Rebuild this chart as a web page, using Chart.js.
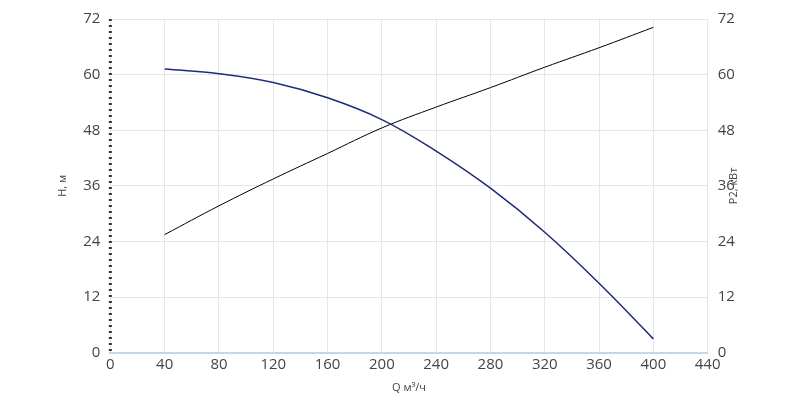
<!DOCTYPE html>
<html><head><meta charset="utf-8">
<script src="https://cdn.jsdelivr.net/npm/chart.js@4"></script>
<style>body{margin:0;background:#fff}#wrap{width:800px;height:408px}</style>
</head><body><div id="wrap"><canvas id="chart"></canvas></div>
<script>
const flows = [40, 80, 120, 160, 200, 240, 280, 320, 360, 400];
const head = [61.2, 60.2, 58.3, 55, 50.3, 43.5, 35.5, 26, 15, 3];
const power = [25.5, 31.7, 37.5, 43, 48.5, 53, 57.2, 61.6, 65.8, 70.2];

// dotted left axis + right axis title reading bottom-to-top
const extras = {
  id: "extras",
  afterDraw(chart) {
    const c = chart.ctx, a = chart.chartArea;
    c.save();
    c.strokeStyle = "#333";
    c.lineWidth = 3;
    c.setLineDash([2, 4]);
    c.beginPath();
    c.moveTo(a.left, a.top);
    c.lineTo(a.left, a.bottom);
    c.stroke();
    c.setLineDash([]);
    c.fillStyle = "#444";
    c.font = "11px 'Open Sans'";
    c.textAlign = "center";
    c.translate(737, (a.top + a.bottom) / 2);
    c.rotate(-Math.PI / 2);
    c.fillText("P2, кВт", 0, 0);
    c.restore();
  }
};

const ctx = document.getElementById('chart').getContext('2d');
const font = {family: "Open Sans", size: 15};
new Chart(ctx, {
  type: "line",
  data: {
    datasets: [
      {data: flows.map((q, i) => ({x: q, y: head[i]})), borderColor: "#1f2a7a", borderWidth: 1.5, yAxisID: "y", pointRadius: 0, tension: 0.4},
      {data: flows.map((q, i) => ({x: q, y: power[i]})), borderColor: "#000", borderWidth: 1, yAxisID: "y2", pointRadius: 0, tension: 0.4}
    ]
  },
  options: {
    responsive: true, maintainAspectRatio: false, animation: false,
    layout: {padding: {left: 52, right: 34, top: 16, bottom: 10}},
    plugins: {legend: {display: false}, tooltip: {enabled: false}},
    scales: {
      x: {
        type: "linear", min: 0, max: 440,
        ticks: {stepSize: 40, color: "#444", font: font},
        grid: {color: "#e6e6e6", drawTicks: false},
        border: {color: "#c8d4ee", width: 2},
        title: {display: true, text: "Q м³/ч", color: "#444", font: {family: "Open Sans", size: 11}}
      },
      y: {
        min: 0, max: 72, position: "left",
        ticks: {stepSize: 12, color: "#444", font: font, padding: 10},
        grid: {color: "#e6e6e6", drawTicks: false},
        border: {display: false},
        title: {display: true, text: "Н, м", color: "#444", font: {family: "Open Sans", size: 11}}
      },
      y2: {
        min: 0, max: 72, position: "right",
        ticks: {stepSize: 12, color: "#444", font: font, padding: 10},
        grid: {display: false, drawTicks: false},
        border: {display: false},
        title: {display: true, text: " ", font: {size: 11}}
      }
    }
  },
  plugins: [extras]
});
</script></body></html>
